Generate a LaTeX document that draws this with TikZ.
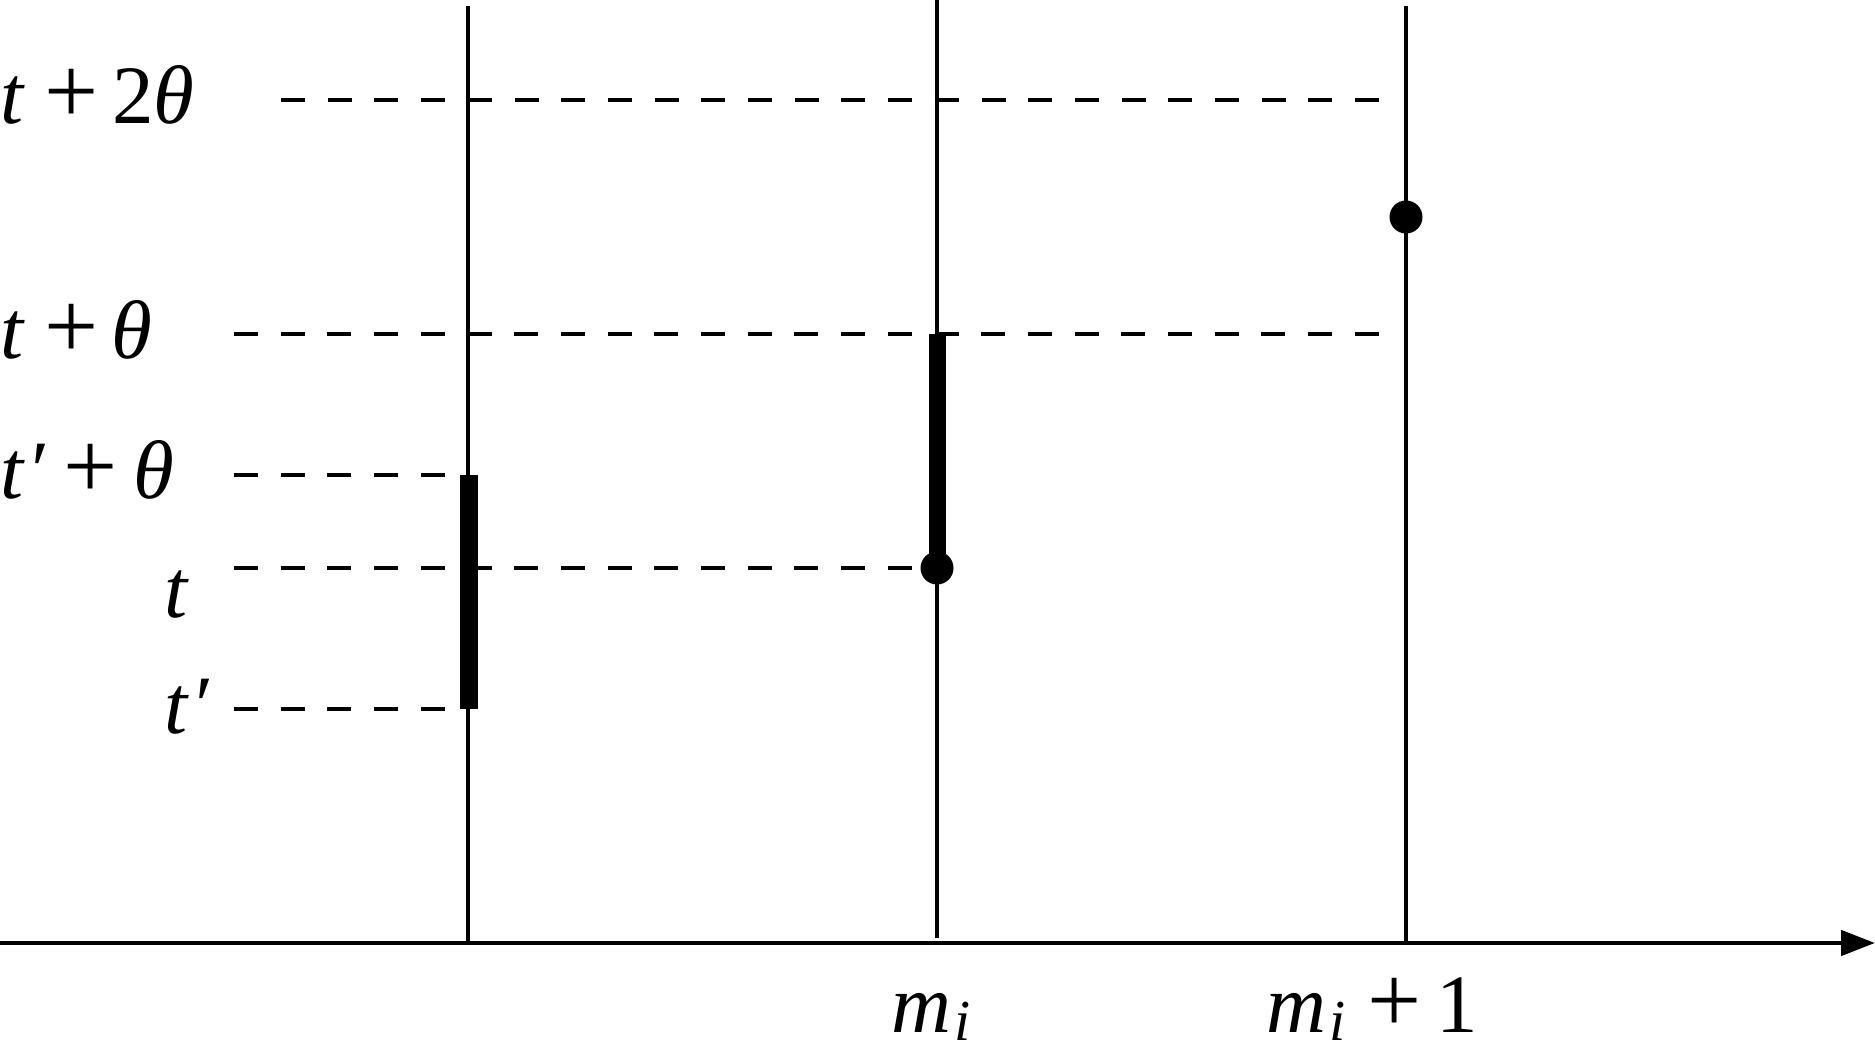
\documentclass[tikz,border=0pt]{standalone}
\usepackage{fontspec}
\setmainfont{Liberation Serif}
\usetikzlibrary{arrows.meta}
\newcommand{\bigplus}{{\fontsize{96}{96}\selectfont+}}
\newcommand{\subi}{\kern0.04em\raisebox{-0.1em}{\fontsize{58}{58}\selectfont\textit{i}}}
\begin{document}
\begin{tikzpicture}[x=1pt,y=-1pt,
  lbl/.style={inner sep=0pt,anchor=base west,font=\fontsize{83}{90}\selectfont},
  guide/.style={line width=4.8pt,dash pattern=on 24pt off 22.7pt},
  vline/.style={line width=4pt},
  bar/.style={fill=black,draw=none},
  dot/.style={circle,fill=black,inner sep=0pt,minimum size=33pt},
  axis/.style={line width=4.7pt,-{Triangle[length=34pt,width=25pt]}}]
\useasboundingbox (0,0) rectangle (1875,1051);
% coordinates
\coordinate (Ltop) at (468,6);
\coordinate (Lbot) at (468,943);
\coordinate (Mtop) at (937,0);
\coordinate (Mbot) at (937,938);
\coordinate (Rtop) at (1406,6);
\coordinate (Rbot) at (1406,943);
\coordinate (ax0) at (0,943);
\coordinate (ax1) at (1875,943);
% guide starts / ends
\coordinate (g1s) at (281,100);  \coordinate (g1e) at (1383,100);
\coordinate (g2s) at (234,334);  \coordinate (g2e) at (1383,334);
\coordinate (g3s) at (234,475);  \coordinate (g3e) at (468,475);
\coordinate (g4s) at (234,568);  \coordinate (g4e) at (937,568);
\coordinate (g5s) at (234,709);  \coordinate (g5e) at (468,709);
% dashed guides
\draw[guide] (g1s) -- (g1e);
\draw[guide] (g2s) -- (g2e);
\draw[guide] (g3s) -- (g3e);
\draw[guide] (g4s) -- (g4e);
\draw[guide] (g5s) -- (g5e);
% vertical lines
\draw[vline] (Ltop) -- (Lbot);
\draw[vline] (Mtop) -- (Mbot);
\draw[vline] (Rtop) -- (Rbot);
% thick intervals
\fill[bar] (459.5,475) rectangle (477.5,709);
\fill[bar] (928.5,334) rectangle (946,568);
% dots
\node[dot] (d1) at (937,568) {};
\node[dot] (d2) at (1406,217) {};
% axis
\draw[axis] (ax0) -- (ax1);
% labels
\node[lbl] (l1) at (0,124) {\textit{t}\kern0.24em\bigplus\kern0.16em2\textit{θ}};
\node[lbl] (l2) at (0,358) {\textit{t}\kern0.24em\bigplus\kern0.15em\textit{θ}};
\node[lbl] (l3) at (0,498) {\textit{t}\kern0.02em\textit{′}\kern0.21em\bigplus\kern0.19em\textit{θ}};
\node[lbl] (l4) at (164,617) {\textit{t}};
\node[lbl] (l5) at (164,733) {\textit{t}\kern0.02em\textit{′}};
\node[lbl] (l6) at (891,1032) {\textit{m}\subi};
\node[lbl] (l7) at (1266,1032) {\textit{m}\subi\kern0.27em\bigplus\kern0.17em1};
\end{tikzpicture}
\end{document}
